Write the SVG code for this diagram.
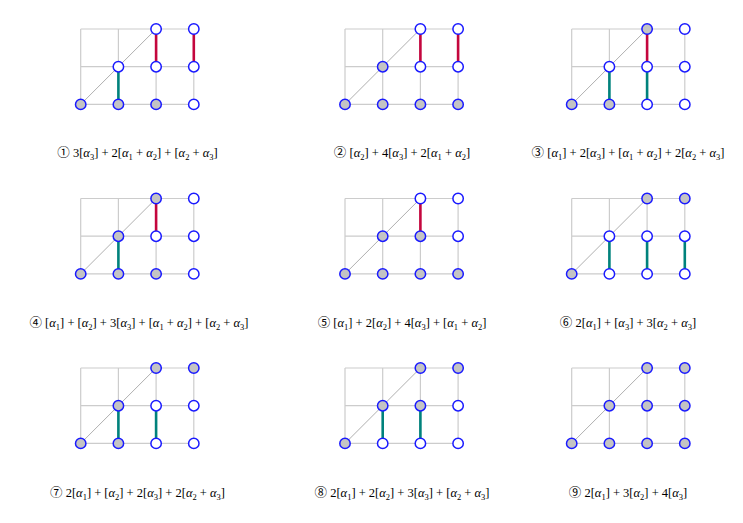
<svg xmlns="http://www.w3.org/2000/svg" xmlns:xlink="http://www.w3.org/1999/xlink" width="743" height="523" viewBox="0 0 743 523">
<style>
.gl{stroke:#cccccc;stroke-width:1.2;fill:none}
.dg{stroke:#9a9a9a;stroke-width:0.8;fill:none}
.red{stroke:#c4063e;stroke-width:2.6;fill:none}
.teal{stroke:#00827c;stroke-width:2.6;fill:none}
.g{fill:#c4c4c4;stroke:#1a1aff;stroke-width:1.5}
.w{fill:#ffffff;stroke:#1a1aff;stroke-width:1.5}
text{font-family:"Liberation Serif","Times New Roman","DejaVu Serif","Noto Sans CJK JP",serif;font-size:12.5px;fill:#000;text-anchor:middle}
.i{font-style:italic}
.s{font-size:8.5px}
</style>
<defs>
<g id="grid">
<path class="gl" d="M0,0H113.1M0,37.7H113.1M0,75.4H113.1M0,0V75.4M37.7,0V75.4M75.4,0V75.4M113.1,0V75.4"/>
<path class="dg" d="M0,75.4L75.4,0"/>
</g>
</defs>

<g id="panel1" transform="translate(80.7,29)">
<use xlink:href="#grid"/>
<g class="connectors"><path class="teal" d="M37.7,75.4V37.7"/><path class="red" d="M75.4,37.7V0M113.1,37.7V0"/></g>
<circle class="g" cx="0" cy="75.4" r="5.2"/><circle class="g" cx="37.7" cy="75.4" r="5.2"/><circle class="g" cx="75.4" cy="75.4" r="5.2"/><circle class="w" cx="113.1" cy="75.4" r="5.2"/>
<circle class="w" cx="37.7" cy="37.7" r="5.2"/><circle class="w" cx="75.4" cy="37.7" r="5.2"/><circle class="w" cx="113.1" cy="37.7" r="5.2"/>
<circle class="w" cx="75.4" cy="0" r="5.2"/><circle class="w" cx="113.1" cy="0" r="5.2"/>
</g>
<g id="panel2" transform="translate(345,29)">
<use xlink:href="#grid"/>
<g class="connectors"><path class="red" d="M75.4,37.7V0M113.1,37.7V0"/></g>
<circle class="g" cx="0" cy="75.4" r="5.2"/><circle class="g" cx="37.7" cy="75.4" r="5.2"/><circle class="g" cx="75.4" cy="75.4" r="5.2"/><circle class="g" cx="113.1" cy="75.4" r="5.2"/>
<circle class="g" cx="37.7" cy="37.7" r="5.2"/><circle class="w" cx="75.4" cy="37.7" r="5.2"/><circle class="w" cx="113.1" cy="37.7" r="5.2"/>
<circle class="w" cx="75.4" cy="0" r="5.2"/><circle class="w" cx="113.1" cy="0" r="5.2"/>
</g>
<g id="panel3" transform="translate(571.7,29)">
<use xlink:href="#grid"/>
<g class="connectors"><path class="teal" d="M37.7,75.4V37.7M75.4,75.4V37.7"/><path class="red" d="M75.4,37.7V0"/></g>
<circle class="g" cx="0" cy="75.4" r="5.2"/><circle class="g" cx="37.7" cy="75.4" r="5.2"/><circle class="w" cx="75.4" cy="75.4" r="5.2"/><circle class="w" cx="113.1" cy="75.4" r="5.2"/>
<circle class="w" cx="37.7" cy="37.7" r="5.2"/><circle class="w" cx="75.4" cy="37.7" r="5.2"/><circle class="w" cx="113.1" cy="37.7" r="5.2"/>
<circle class="g" cx="75.4" cy="0" r="5.2"/><circle class="w" cx="113.1" cy="0" r="5.2"/>
</g>

<g id="panel4" transform="translate(80.7,198.5)">
<use xlink:href="#grid"/>
<g class="connectors"><path class="teal" d="M37.7,75.4V37.7"/><path class="red" d="M75.4,37.7V0"/></g>
<circle class="g" cx="0" cy="75.4" r="5.2"/><circle class="g" cx="37.7" cy="75.4" r="5.2"/><circle class="g" cx="75.4" cy="75.4" r="5.2"/><circle class="w" cx="113.1" cy="75.4" r="5.2"/>
<circle class="g" cx="37.7" cy="37.7" r="5.2"/><circle class="w" cx="75.4" cy="37.7" r="5.2"/><circle class="w" cx="113.1" cy="37.7" r="5.2"/>
<circle class="g" cx="75.4" cy="0" r="5.2"/><circle class="w" cx="113.1" cy="0" r="5.2"/>
</g>
<g id="panel5" transform="translate(345,198.5)">
<use xlink:href="#grid"/>
<g class="connectors"><path class="red" d="M75.4,37.7V0"/></g>
<circle class="g" cx="0" cy="75.4" r="5.2"/><circle class="g" cx="37.7" cy="75.4" r="5.2"/><circle class="g" cx="75.4" cy="75.4" r="5.2"/><circle class="g" cx="113.1" cy="75.4" r="5.2"/>
<circle class="g" cx="37.7" cy="37.7" r="5.2"/><circle class="g" cx="75.4" cy="37.7" r="5.2"/><circle class="w" cx="113.1" cy="37.7" r="5.2"/>
<circle class="w" cx="75.4" cy="0" r="5.2"/><circle class="w" cx="113.1" cy="0" r="5.2"/>
</g>
<g id="panel6" transform="translate(571.7,198.5)">
<use xlink:href="#grid"/>
<g class="connectors"><path class="teal" d="M37.7,75.4V37.7M75.4,75.4V37.7M113.1,75.4V37.7"/></g>
<circle class="g" cx="0" cy="75.4" r="5.2"/><circle class="w" cx="37.7" cy="75.4" r="5.2"/><circle class="w" cx="75.4" cy="75.4" r="5.2"/><circle class="w" cx="113.1" cy="75.4" r="5.2"/>
<circle class="w" cx="37.7" cy="37.7" r="5.2"/><circle class="w" cx="75.4" cy="37.7" r="5.2"/><circle class="w" cx="113.1" cy="37.7" r="5.2"/>
<circle class="g" cx="75.4" cy="0" r="5.2"/><circle class="g" cx="113.1" cy="0" r="5.2"/>
</g>

<g id="panel7" transform="translate(80.7,368)">
<use xlink:href="#grid"/>
<g class="connectors"><path class="teal" d="M37.7,75.4V37.7M75.4,75.4V37.7"/></g>
<circle class="g" cx="0" cy="75.4" r="5.2"/><circle class="g" cx="37.7" cy="75.4" r="5.2"/><circle class="w" cx="75.4" cy="75.4" r="5.2"/><circle class="w" cx="113.1" cy="75.4" r="5.2"/>
<circle class="g" cx="37.7" cy="37.7" r="5.2"/><circle class="w" cx="75.4" cy="37.7" r="5.2"/><circle class="w" cx="113.1" cy="37.7" r="5.2"/>
<circle class="g" cx="75.4" cy="0" r="5.2"/><circle class="g" cx="113.1" cy="0" r="5.2"/>
</g>
<g id="panel8" transform="translate(345,368)">
<use xlink:href="#grid"/>
<g class="connectors"><path class="teal" d="M37.7,75.4V37.7M75.4,75.4V37.7"/></g>
<circle class="g" cx="0" cy="75.4" r="5.2"/><circle class="w" cx="37.7" cy="75.4" r="5.2"/><circle class="w" cx="75.4" cy="75.4" r="5.2"/><circle class="w" cx="113.1" cy="75.4" r="5.2"/>
<circle class="g" cx="37.7" cy="37.7" r="5.2"/><circle class="g" cx="75.4" cy="37.7" r="5.2"/><circle class="w" cx="113.1" cy="37.7" r="5.2"/>
<circle class="g" cx="75.4" cy="0" r="5.2"/><circle class="g" cx="113.1" cy="0" r="5.2"/>
</g>
<g id="panel9" transform="translate(571.7,368)">
<use xlink:href="#grid"/>
<circle class="g" cx="0" cy="75.4" r="5.2"/><circle class="g" cx="37.7" cy="75.4" r="5.2"/><circle class="g" cx="75.4" cy="75.4" r="5.2"/><circle class="g" cx="113.1" cy="75.4" r="5.2"/>
<circle class="g" cx="37.7" cy="37.7" r="5.2"/><circle class="g" cx="75.4" cy="37.7" r="5.2"/><circle class="g" cx="113.1" cy="37.7" r="5.2"/>
<circle class="g" cx="75.4" cy="0" r="5.2"/><circle class="g" cx="113.1" cy="0" r="5.2"/>
</g>

<g id="labels">
<text x="137.5" y="157">① 3[<tspan class="i">α</tspan><tspan class="s" dy="2.5">3</tspan><tspan dy="-2.5">] + 2[</tspan><tspan class="i">α</tspan><tspan class="s" dy="2.5">1</tspan><tspan dy="-2.5"> + </tspan><tspan class="i">α</tspan><tspan class="s" dy="2.5">2</tspan><tspan dy="-2.5">] + [</tspan><tspan class="i">α</tspan><tspan class="s" dy="2.5">2</tspan><tspan dy="-2.5"> + </tspan><tspan class="i">α</tspan><tspan class="s" dy="2.5">3</tspan><tspan dy="-2.5">]</tspan></text>
<text x="402" y="157">② [<tspan class="i">α</tspan><tspan class="s" dy="2.5">2</tspan><tspan dy="-2.5">] + 4[</tspan><tspan class="i">α</tspan><tspan class="s" dy="2.5">3</tspan><tspan dy="-2.5">] + 2[</tspan><tspan class="i">α</tspan><tspan class="s" dy="2.5">1</tspan><tspan dy="-2.5"> + </tspan><tspan class="i">α</tspan><tspan class="s" dy="2.5">2</tspan><tspan dy="-2.5">]</tspan></text>
<text x="628" y="157">③ [<tspan class="i">α</tspan><tspan class="s" dy="2.5">1</tspan><tspan dy="-2.5">] + 2[</tspan><tspan class="i">α</tspan><tspan class="s" dy="2.5">3</tspan><tspan dy="-2.5">] + [</tspan><tspan class="i">α</tspan><tspan class="s" dy="2.5">1</tspan><tspan dy="-2.5"> + </tspan><tspan class="i">α</tspan><tspan class="s" dy="2.5">2</tspan><tspan dy="-2.5">] + 2[</tspan><tspan class="i">α</tspan><tspan class="s" dy="2.5">2</tspan><tspan dy="-2.5"> + </tspan><tspan class="i">α</tspan><tspan class="s" dy="2.5">3</tspan><tspan dy="-2.5">]</tspan></text>
<text x="139" y="327">④ [<tspan class="i">α</tspan><tspan class="s" dy="2.5">1</tspan><tspan dy="-2.5">] + [</tspan><tspan class="i">α</tspan><tspan class="s" dy="2.5">2</tspan><tspan dy="-2.5">] + 3[</tspan><tspan class="i">α</tspan><tspan class="s" dy="2.5">3</tspan><tspan dy="-2.5">] + [</tspan><tspan class="i">α</tspan><tspan class="s" dy="2.5">1</tspan><tspan dy="-2.5"> + </tspan><tspan class="i">α</tspan><tspan class="s" dy="2.5">2</tspan><tspan dy="-2.5">] + [</tspan><tspan class="i">α</tspan><tspan class="s" dy="2.5">2</tspan><tspan dy="-2.5"> + </tspan><tspan class="i">α</tspan><tspan class="s" dy="2.5">3</tspan><tspan dy="-2.5">]</tspan></text>
<text x="402" y="327">⑤ [<tspan class="i">α</tspan><tspan class="s" dy="2.5">1</tspan><tspan dy="-2.5">] + 2[</tspan><tspan class="i">α</tspan><tspan class="s" dy="2.5">2</tspan><tspan dy="-2.5">] + 4[</tspan><tspan class="i">α</tspan><tspan class="s" dy="2.5">3</tspan><tspan dy="-2.5">] + [</tspan><tspan class="i">α</tspan><tspan class="s" dy="2.5">1</tspan><tspan dy="-2.5"> + </tspan><tspan class="i">α</tspan><tspan class="s" dy="2.5">2</tspan><tspan dy="-2.5">]</tspan></text>
<text x="628" y="327">⑥ 2[<tspan class="i">α</tspan><tspan class="s" dy="2.5">1</tspan><tspan dy="-2.5">] + [</tspan><tspan class="i">α</tspan><tspan class="s" dy="2.5">3</tspan><tspan dy="-2.5">] + 3[</tspan><tspan class="i">α</tspan><tspan class="s" dy="2.5">2</tspan><tspan dy="-2.5"> + </tspan><tspan class="i">α</tspan><tspan class="s" dy="2.5">3</tspan><tspan dy="-2.5">]</tspan></text>
<text x="137.5" y="497">⑦ 2[<tspan class="i">α</tspan><tspan class="s" dy="2.5">1</tspan><tspan dy="-2.5">] + [</tspan><tspan class="i">α</tspan><tspan class="s" dy="2.5">2</tspan><tspan dy="-2.5">] + 2[</tspan><tspan class="i">α</tspan><tspan class="s" dy="2.5">3</tspan><tspan dy="-2.5">] + 2[</tspan><tspan class="i">α</tspan><tspan class="s" dy="2.5">2</tspan><tspan dy="-2.5"> + </tspan><tspan class="i">α</tspan><tspan class="s" dy="2.5">3</tspan><tspan dy="-2.5">]</tspan></text>
<text x="402" y="497">⑧ 2[<tspan class="i">α</tspan><tspan class="s" dy="2.5">1</tspan><tspan dy="-2.5">] + 2[</tspan><tspan class="i">α</tspan><tspan class="s" dy="2.5">2</tspan><tspan dy="-2.5">] + 3[</tspan><tspan class="i">α</tspan><tspan class="s" dy="2.5">3</tspan><tspan dy="-2.5">] + [</tspan><tspan class="i">α</tspan><tspan class="s" dy="2.5">2</tspan><tspan dy="-2.5"> + </tspan><tspan class="i">α</tspan><tspan class="s" dy="2.5">3</tspan><tspan dy="-2.5">]</tspan></text>
<text x="628" y="497">⑨ 2[<tspan class="i">α</tspan><tspan class="s" dy="2.5">1</tspan><tspan dy="-2.5">] + 3[</tspan><tspan class="i">α</tspan><tspan class="s" dy="2.5">2</tspan><tspan dy="-2.5">] + 4[</tspan><tspan class="i">α</tspan><tspan class="s" dy="2.5">3</tspan><tspan dy="-2.5">]</tspan></text>
</g>
</svg>
